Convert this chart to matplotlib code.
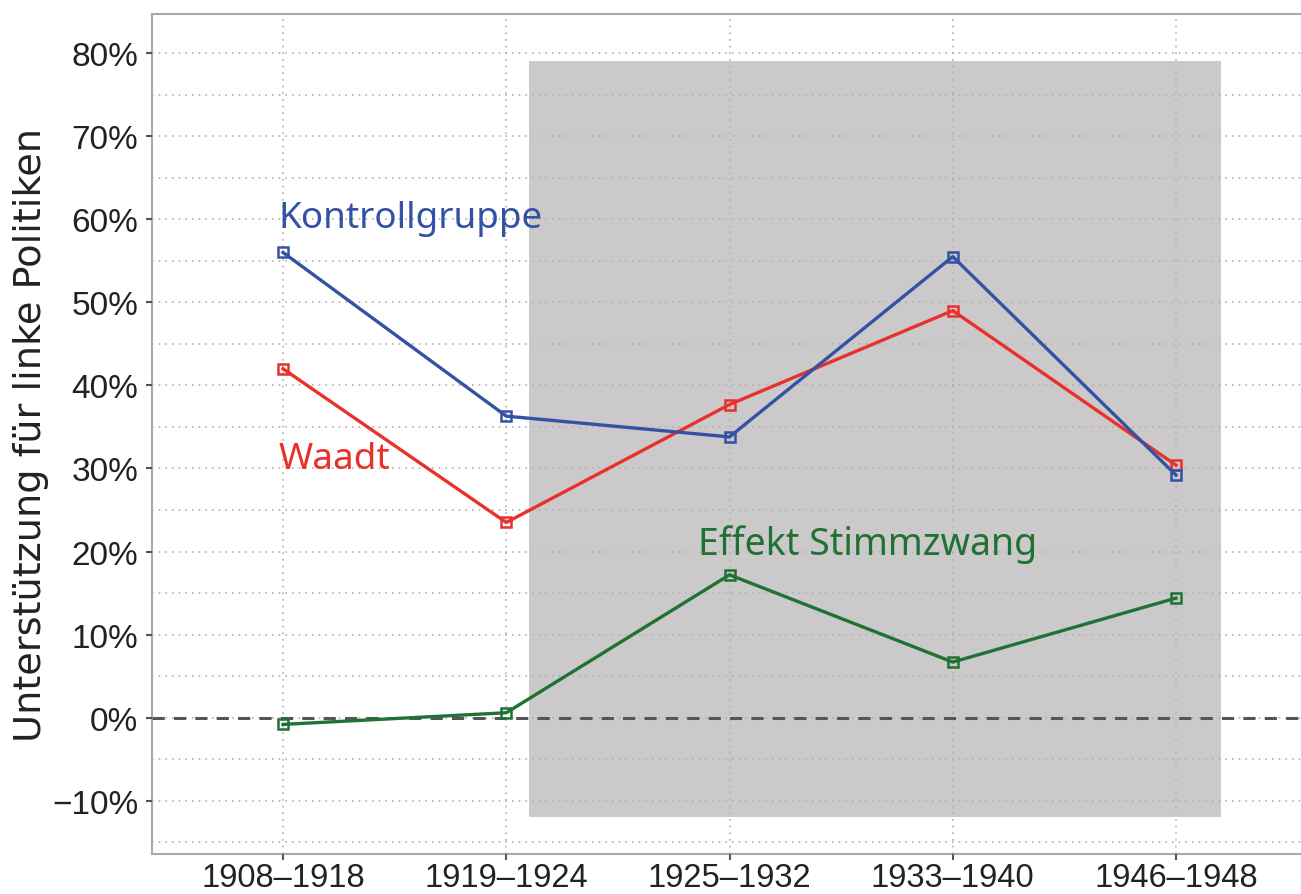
import matplotlib
matplotlib.use("Agg")
import matplotlib.pyplot as plt
from matplotlib.patches import Rectangle
from matplotlib.ticker import FuncFormatter, MultipleLocator

# Daten
perioden = ["1908–1918", "1919–1924", "1925–1932", "1933–1940", "1946–1948"]
kontrolle = [56.0, 36.3, 33.8, 55.5, 29.2]
waadt = [42.0, 23.5, 37.7, 49.0, 30.4]
effekt = [-0.8, 0.6, 17.2, 6.7, 14.4]

blau = "#3452a4"
rot = "#e8312a"
gruen = "#1f7233"

fig = plt.figure(figsize=(13.01, 8.95), dpi=100)
ax = fig.add_axes([152 / 1301, 1 - 855 / 895, (1301 - 152) / 1301, (855 - 15) / 895])

x = list(range(len(perioden)))

# Stimmzwang-Periode (grau hinterlegt)
ax.add_patch(Rectangle((1.1, -12), 3.1, 91, facecolor="#cbc9ca", edgecolor="none", zorder=0))

ax.axhline(0, color="#555555", linestyle=(0, (4, 3)), linewidth=2.2, zorder=2.6)

ax.plot(x, kontrolle, color=blau, lw=2.4, marker="s", ms=6.5, mfc="none", mew=1.8, zorder=4)
ax.plot(x, waadt, color=rot, lw=2.4, marker="s", ms=6.5, mfc="none", mew=1.8, zorder=3)
ax.plot(x, effekt, color=gruen, lw=2.4, marker="s", ms=6.5, mfc="none", mew=1.8, zorder=3)

ax.text(-0.02, 60.2, "Kontrollgruppe", color=blau, fontsize=26.5, family="Noto Sans", va="center", ha="left")
ax.text(-0.02, 31.2, "Waadt", color=rot, fontsize=26.5, family="Noto Sans", va="center", ha="left")
ax.text(1.86, 20.9, "Effekt Stimmzwang", color=gruen, fontsize=27, family="Noto Sans", va="center", ha="left")

ax.set_xlim(-0.587, 4.56)
ax.set_ylim(-16.4, 84.7)
ax.set_xticks(x)
ax.set_xticklabels(perioden)
ax.yaxis.set_major_locator(MultipleLocator(10))
ax.yaxis.set_minor_locator(MultipleLocator(5))
ax.yaxis.set_major_formatter(FuncFormatter(lambda v, p: f"{v:.0f}%".replace("-", "−")))

ax.set_axisbelow(False)
ax.grid(True, which="both", axis="y", color="#b0b0b0", linestyle=(0, (1, 3)), linewidth=1.2)
ax.grid(True, which="major", axis="x", color="#b0b0b0", linestyle=(0, (1, 3)), linewidth=1.2)

for s in ["left", "bottom", "top"]:
    ax.spines[s].set_color("#aaaaaa")
    ax.spines[s].set_linewidth(1.5)
ax.spines["right"].set_visible(False)

ax.tick_params(axis="both", which="major", color="#555555", length=4, width=1.5)
ax.tick_params(axis="y", labelsize=24, pad=6)
ax.tick_params(axis="x", labelsize=23.5, pad=2)
ax.tick_params(axis="y", which="minor", length=0)
for lab in ax.get_xticklabels() + ax.get_yticklabels():
    lab.set_family("Liberation Sans")
    lab.set_color("#222222")

ax.set_ylabel("Unterstützung für linke Politiken", fontsize=27.5, family="DejaVu Sans", color="#222222", labelpad=2)

fig.savefig("out.png", dpi=100)
